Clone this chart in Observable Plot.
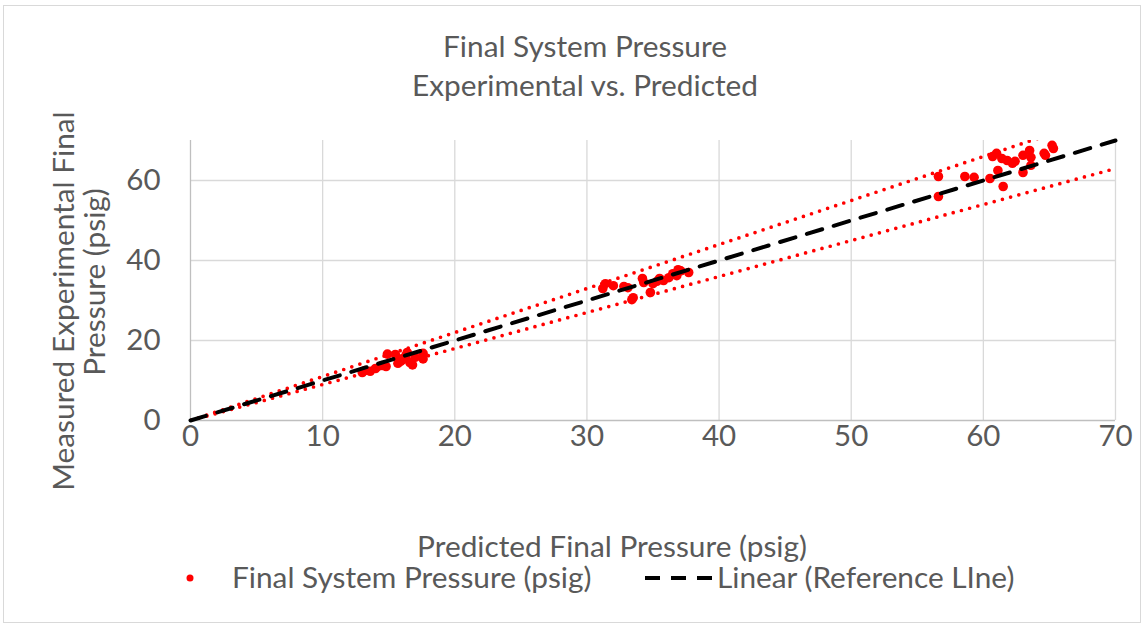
<!DOCTYPE html>
<html><head><meta charset="utf-8">
<script src="https://cdn.jsdelivr.net/npm/d3@7"></script>
<script src="https://cdn.jsdelivr.net/npm/@observablehq/plot@0.6"></script>
<style>
body{margin:0;background:#fff;}
#wrap{position:relative;width:1144px;height:626px;overflow:hidden;font-family:Lato,sans-serif;color:#595959;}
#border{position:absolute;left:3px;top:5px;width:1138px;height:618px;border:1px solid #d9d9d9;box-sizing:border-box;}
#chart{position:absolute;left:0;top:0;}
#overlay{position:absolute;left:0;top:0;}
#overlay text{font-family:Lato,sans-serif;fill:#595959;}
</style></head><body>
<div id="wrap"><div id="border"></div><div id="chart"></div><svg id="overlay" width="1144" height="626"></svg></div>
<script>
// Predicted final pressure (psig) -> x ; measured experimental final pressure (psig) -> y
const predicted = [
  13.0,13.2,13.6,14.0,14.5,14.8,14.9,15.5,15.7,15.7,16.1,16.4,16.6,16.8,17.0,17.6,17.6,15.9,16.3,
  31.2,31.4,32.0,32.8,33.1,33.5,33.4,34.2,34.3,34.8,35.0,35.3,35.8,36.2,36.5,36.8,36.9,37.1,37.7,35.5,
  56.6,56.6,58.6,59.3,60.5,61.1,61.5,60.7,61.0,61.4,61.8,62.2,62.4,63.0,63.0,63.5,63.6,63.6,64.6,64.7,65.2,65.3
];
const measured = [
  12.0,12.5,12.3,13.0,13.75,13.5,16.6,16.5,15.5,14.3,15.5,17.0,14.5,13.9,15.8,16.8,15.4,14.8,16.2,
  33.0,34.2,33.7,33.5,33.2,30.7,30.2,35.5,34.5,32.0,34.2,34.8,35.0,35.7,36.7,36.2,37.7,37.4,37.0,35.5,
  61.0,56.0,61.0,60.8,60.5,62.5,58.5,66.0,66.8,65.5,65.0,64.3,64.8,62.0,66.3,67.5,65.8,63.8,66.8,66.3,68.8,68.0
];
const xTicks = [0,10,20,30,40,50,60,70];
const yTicks = [0,20,40,60];
const lineX = [0,70];
const refY = [0,70];     // reference line y = x
const upperY = [0,77];   // +10 %
const lowerY = [0,63];   // -10 %
const titleLines = ["Final System Pressure","Experimental vs. Predicted"];
const xTitle = "Predicted Final Pressure (psig)";
const yTitleLines = ["Measured Experimental Final","Pressure (psig)"];
const legendLabels = ["Final System Pressure (psig)","Linear (Reference LIne)"];

const pts = predicted.map((x,i)=>({x, y: measured[i]}));
const ref = lineX.map((x,i)=>({x, y: refY[i]}));
const up = lineX.map((x,i)=>({x, y: upperY[i]}));
const lo = lineX.map((x,i)=>({x, y: lowerY[i]}));

const chart = Plot.plot({
  width:1144, height:626,
  marginLeft:190, marginRight:29, marginTop:140, marginBottom:206,
  x:{domain:[0,70]},
  y:{domain:[0,70]},
  style:{fontFamily:"Lato, sans-serif", fontSize:"29.5px", color:"#595959", background:"transparent", overflow:"visible"},
  marks:[
    Plot.ruleX(xTicks.filter(d=>d>0), {stroke:"#d9d9d9", strokeOpacity:1, strokeWidth:1.3}),
    Plot.ruleY(yTicks.filter(d=>d>0), {stroke:"#d9d9d9", strokeOpacity:1, strokeWidth:1.3}),
    Plot.ruleX([0], {stroke:"#bfbfbf", strokeOpacity:1, strokeWidth:1.3}),
    Plot.ruleY([0], {stroke:"#bfbfbf", strokeOpacity:1, strokeWidth:1.3}),
    Plot.dot(pts, {x:"x", y:"y", r:4.8, fill:"#ff0000", stroke:"none"}),
    Plot.line(up, {x:"x", y:"y", stroke:"#ff0000", strokeWidth:3.7, strokeDasharray:"0 8.5", strokeLinecap:"round", clip:true}),
    Plot.line(lo, {x:"x", y:"y", stroke:"#ff0000", strokeWidth:3.7, strokeDasharray:"0 8.5", strokeLinecap:"round", clip:true}),
    Plot.line(ref, {x:"x", y:"y", stroke:"#000", strokeWidth:4, strokeDasharray:"16 12"}),
    Plot.axisX({ticks:xTicks, tickSize:0, tickPadding:5, label:null}),
    Plot.axisY({ticks:yTicks, tickSize:0, tickPadding:30, label:null})
  ]
});
document.getElementById("chart").appendChild(chart);

const ov = d3.select("#overlay");
const fs = 29.8;
ov.append("text").attr("x",585).attr("y",57).attr("text-anchor","middle").attr("font-size",fs).text(titleLines[0]);
ov.append("text").attr("x",585).attr("y",96).attr("text-anchor","middle").attr("font-size",fs).text(titleLines[1]);
ov.append("text").attr("x",612).attr("y",557).attr("text-anchor","middle").attr("font-size",fs).text(xTitle);
ov.append("text").attr("transform","translate(74,301) rotate(-90)").attr("text-anchor","middle").attr("font-size",fs).text(yTitleLines[0]);
ov.append("text").attr("transform","translate(105,282) rotate(-90)").attr("text-anchor","middle").attr("font-size",fs).text(yTitleLines[1]);
// legend
ov.append("circle").attr("cx",190).attr("cy",578).attr("r",3.5).attr("fill","#ff0000");
ov.append("text").attr("x",232).attr("y",588).attr("font-size",fs).text(legendLabels[0]);
ov.append("line").attr("x1",645).attr("x2",715).attr("y1",578).attr("y2",578).attr("stroke","#000").attr("stroke-width",4).attr("stroke-dasharray","15 11");
ov.append("text").attr("x",717).attr("y",588).attr("font-size",fs).text(legendLabels[1]);
</script>
</body></html>
